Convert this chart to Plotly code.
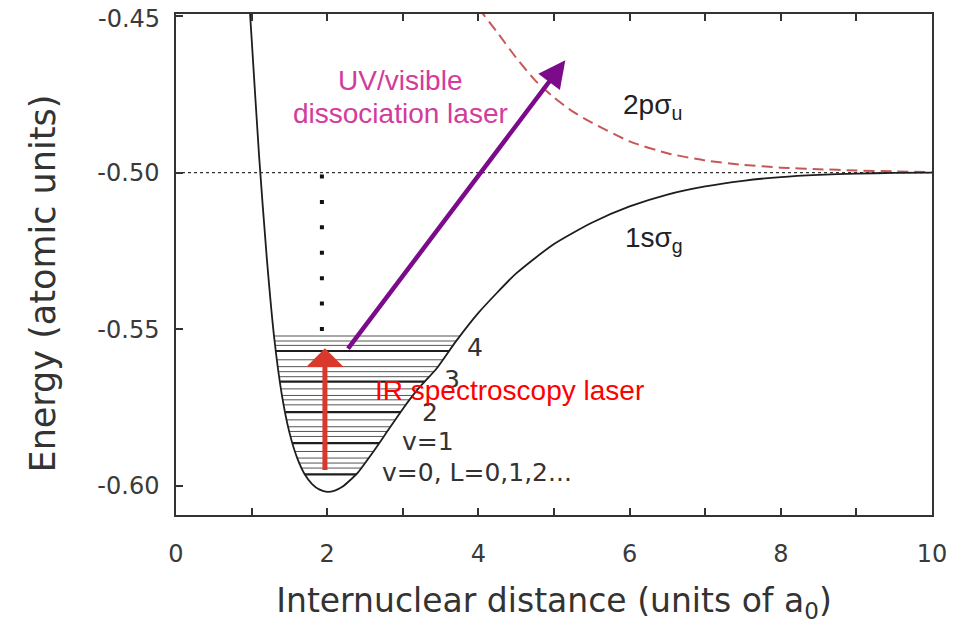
import numpy as np
import plotly.graph_objects as go

# ---- data ----
# 1s sigma_g potential (internuclear distance in a0, energy in atomic units)
r_1s = [0.95, 1.0, 1.1, 1.2, 1.3, 1.4, 1.5, 1.6, 1.7, 1.8, 1.9, 2.0,
        2.1, 2.2, 2.4, 2.6, 2.8, 3.0, 3.2, 3.45, 3.7, 4.0, 4.5, 5.0,
        5.5, 6.0, 6.5, 7.0, 7.5, 8.0, 8.5, 9.0, 9.5, 10.0]
e_1s = [-0.438, -0.457, -0.495, -0.527, -0.553, -0.571, -0.583, -0.591,
        -0.5963, -0.5995, -0.6013, -0.6020, -0.6016, -0.6004, -0.5960,
        -0.5895, -0.5825, -0.5755, -0.5692, -0.5625, -0.5540, -0.5448,
        -0.5322, -0.5228, -0.5160, -0.5108, -0.5070, -0.5044, -0.5026,
        -0.5014, -0.5007, -0.5003, -0.5001, -0.5000]

# 2p sigma_u potential
r_2p = [4.0, 4.25, 4.5, 4.75, 5.0, 5.25, 5.5, 6.0, 6.5, 7.0, 7.5, 8.0,
        8.5, 9.0, 9.5, 10.0]
e_2p = [-0.4474, -0.4552, -0.4633, -0.4705, -0.4760, -0.4805, -0.4840,
        -0.4900, -0.4938, -0.4961, -0.4975, -0.4984, -0.4989, -0.4993,
        -0.4996, -0.4998]

# dissociation limit
limit_r = [0, 10]
limit_e = [-0.50, -0.50]

# vibrational (L=0, thick) and rotational (thin) levels
vib_levels = [-0.5964, -0.5864, -0.5765, -0.5668, -0.5570]
rot_levels = [-0.5944, -0.5928, -0.5912, -0.5891,
              -0.5843, -0.5827, -0.5812, -0.5790,
              -0.5742, -0.5726, -0.5712, -0.5691,
              -0.5652, -0.5636, -0.5620, -0.5598,
              -0.5552, -0.5538, -0.5522]

# vertical dotted guide
guide_r = [1.93, 1.93]
guide_e = [-0.5006, -0.5520]

# arrows: (tail r, tail E, head r, head E)
ir_arrow = (1.97, -0.5955, 1.97, -0.5561)
uv_arrow = (2.26, -0.5567, 5.15, -0.4641)

xticks = [0, 1, 2, 3, 4, 5, 6, 7, 8, 9, 10]
xticktext = ["0", "", "2", "", "4", "", "6", "", "8", "", "10"]
yticks = [-0.60, -0.55, -0.50, -0.45]
yticktext = ["-0.60", "-0.55", "-0.50", ""]
top_tick_label = "-0.45"   # drawn a few px lower so it is not clipped

# ---- figure ----
fig = go.Figure()

# branches of the well to find where each level meets the curve
i_min = int(np.argmin(e_1s))
left_r = np.array(r_1s[:i_min + 1])[::-1]
left_e = np.array(e_1s[:i_min + 1])[::-1]
right_r = np.array(r_1s[i_min:])
right_e = np.array(e_1s[i_min:])


def level_trace(levels, width, color):
    xs, ys = [], []
    for e in levels:
        xl = float(np.interp(e, left_e, left_r))
        xr = float(np.interp(e, right_e, right_r))
        xs += [xl, xr, None]
        ys += [e, e, None]
    return go.Scatter(x=xs, y=ys, mode="lines",
                      line=dict(color=color, width=width),
                      hoverinfo="skip")


fig.add_trace(level_trace(rot_levels, 1.0, "#555555"))
fig.add_trace(level_trace(vib_levels, 2.2, "#1e1e1e"))

fig.add_trace(go.Scatter(x=limit_r, y=limit_e, mode="lines",
                         line=dict(color="#333333", width=1.3, dash="dot")))
fig.add_trace(go.Scatter(x=r_2p, y=e_2p, mode="lines",
                         line=dict(color="#c85656", width=2,
                                   dash="11px,6px", shape="spline",
                                   smoothing=0.6)))
fig.add_trace(go.Scatter(x=r_1s, y=e_1s, mode="lines",
                         line=dict(color="#1e1e1e", width=1.8,
                                   shape="spline", smoothing=0.6)))
fig.add_trace(go.Scatter(x=guide_r, y=guide_e, mode="lines",
                         line=dict(color="#111111", width=4,
                                   dash="4px,21.4px")))

annotations = []
# arrows
annotations.append(dict(x=ir_arrow[2], y=ir_arrow[3], ax=ir_arrow[0],
                        ay=ir_arrow[1], xref="x", yref="y", axref="x",
                        ayref="y", text="", showarrow=True, arrowhead=1,
                        arrowsize=1.25, arrowwidth=5, arrowcolor="#d8392c",
                        standoff=0, startstandoff=0))
annotations.append(dict(x=uv_arrow[2], y=uv_arrow[3], ax=uv_arrow[0],
                        ay=uv_arrow[1], xref="x", yref="y", axref="x",
                        ayref="y", text="", showarrow=True, arrowhead=2,
                        arrowsize=1.2, arrowwidth=4.5, arrowcolor="#7b0b8b",
                        standoff=0, startstandoff=0))

label_font = dict(family="DejaVu Sans", size=25, color="#333333")
arial = "Liberation Sans, Arial, sans-serif"


def add_text(x, y, text, font, xanchor="center", yanchor="middle"):
    annotations.append(dict(x=x, y=y, xref="x", yref="y", text=text,
                            showarrow=False, font=font, xanchor=xanchor,
                            yanchor=yanchor))


add_text(2.963, -0.4705, "UV/visible",
         dict(family=arial, size=28, color="#d23c9c"))
add_text(2.963, -0.4810, "dissociation laser",
         dict(family=arial, size=28, color="#d23c9c"))
add_text(5.89, -0.4790, "2pσ<sub>u</sub>",
         dict(family=arial, size=28, color="#222222"), xanchor="left")
add_text(5.91, -0.5212, "1sσ<sub>g</sub>",
         dict(family=arial, size=28, color="#222222"), xanchor="left")
add_text(3.955, -0.5560, "4", label_font)
add_text(3.65, -0.5662, "3", label_font)
add_text(3.36, -0.5768, "2", label_font)
add_text(3.333, -0.5860, "v=1", label_font)
add_text(2.70, -0.5959, "v=0, L=0,1,2...", label_font, xanchor="left")
add_text(2.606, -0.5697, "IR spectroscopy laser",
         dict(family=arial, size=28, color="#ff0000"), xanchor="left")

# top y tick label
annotations.append(dict(x=0, y=yticks[-1], xref="paper", yref="y",
                        text=top_tick_label, showarrow=False,
                        xanchor="right", yanchor="middle", xshift=-14,
                        yshift=-3,
                        font=dict(family="DejaVu Sans", size=24,
                                  color="#3a3a3a")))

# y-axis title (placed as an annotation to match the original offset)
annotations.append(dict(x=-0.176, y=0.462, xref="paper", yref="paper",
                        text="Energy (atomic units)", textangle=-90,
                        showarrow=False, xanchor="center", yanchor="middle",
                        font=dict(family="DejaVu Sans", size=35,
                                  color="#333333")))

axis_common = dict(showline=True, linecolor="#333333", linewidth=1.5,
                   ticks="inside", ticklen=7, tickwidth=1.5,
                   tickcolor="#333333", showgrid=False, zeroline=False,
                   automargin=False, ticklabeloverflow="allow",
                   tickfont=dict(family="DejaVu Sans", size=24,
                                 color="#3a3a3a"))

# the page body adds an 8 px offset, so the figure is sized to fit the window
fig.update_layout(
    width=953, height=619,
    margin=dict(l=168, r=29, t=6, b=112),
    paper_bgcolor="white", plot_bgcolor="white",
    showlegend=False,
    annotations=annotations,
    xaxis=dict(range=[0, 10], tickmode="array", tickvals=xticks,
               ticktext=xticktext, mirror="ticks", ticklabelstandoff=16,
               title=dict(text="Internuclear distance (units of a<sub>0</sub>)",
                          font=dict(family="DejaVu Sans", size=33,
                                    color="#333333"),
                          standoff=22),
               **axis_common),
    yaxis=dict(range=[-0.6094, -0.4493], tickmode="array", tickvals=yticks,
               ticktext=yticktext, mirror=True, ticklabelstandoff=10,
               **axis_common),
)

fig.write_html("out.html")
